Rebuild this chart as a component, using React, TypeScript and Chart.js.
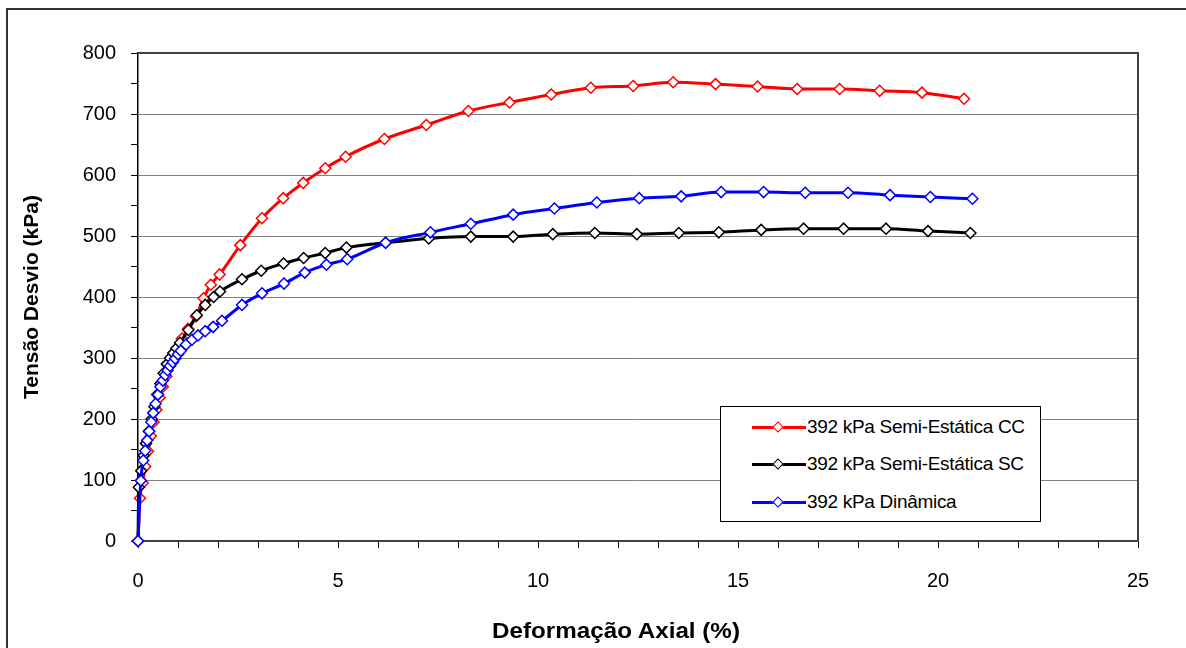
import React, { useEffect, useRef } from "react";
import { Chart, registerables } from "chart.js";

Chart.register(...registerables);

const seriesNames = [
  "392 kPa Semi-Estática CC",
  "392 kPa Semi-Estática SC",
  "392 kPa Dinâmica",
];
const seriesColors = ["#FF0000", "#000000", "#0000FF"];

const ccStrain = [0, 0.05, 0.12, 0.18, 0.25, 0.32, 0.39, 0.46, 0.54, 0.62, 0.71, 0.8, 0.9, 1.0, 1.1, 1.25, 1.45, 1.64, 1.82, 2.04, 2.56, 3.1, 3.63, 4.13, 4.68, 5.19, 6.16, 7.21, 8.26, 9.29, 10.33, 11.32, 12.38, 13.38, 14.44, 15.49, 16.48, 17.54, 18.54, 19.6, 20.65];
const ccStress = [0, 70, 95, 122, 147, 172, 195, 215, 235, 253, 270, 288, 303, 318, 332, 348, 368, 398, 420, 437, 485, 529, 562, 587, 611, 630, 659, 682, 705, 719, 732, 743, 746, 752, 749, 745, 741, 741, 738, 735, 725];

const scStrain = [0, 0.02, 0.08, 0.14, 0.2, 0.27, 0.34, 0.41, 0.48, 0.56, 0.64, 0.72, 0.8, 0.88, 0.96, 1.05, 1.26, 1.47, 1.68, 1.89, 2.05, 2.6, 3.08, 3.64, 4.14, 4.68, 5.21, 6.19, 7.27, 8.32, 9.38, 10.37, 11.42, 12.47, 13.52, 14.52, 15.58, 16.64, 17.64, 18.7, 19.75, 20.81];
const scStress = [0, 88, 115, 140, 160, 180, 200, 220, 240, 258, 275, 290, 300, 308, 316, 325, 346, 370, 387, 400, 409, 429, 443, 455, 464, 472, 481, 489, 496, 499, 499, 503, 505, 503, 505, 506, 510, 512, 512, 512, 508, 505];

const dynStrain = [0, 0.07, 0.13, 0.18, 0.23, 0.28, 0.33, 0.38, 0.44, 0.5, 0.56, 0.62, 0.68, 0.74, 0.8, 0.87, 0.93, 1.0, 1.07, 1.2, 1.35, 1.5, 1.68, 1.88, 2.1, 2.6, 3.1, 3.65, 4.17, 4.71, 5.23, 6.19, 7.31, 8.32, 9.38, 10.41, 11.47, 12.53, 13.58, 14.58, 15.64, 16.68, 17.75, 18.8, 19.81, 20.86];
const dynStress = [0, 99, 132, 148, 165, 180, 195, 210, 225, 240, 253, 263, 272, 280, 287, 293, 299, 306, 312, 322, 330, 337, 344, 351, 361, 387, 406, 422, 440, 453, 462, 489, 506, 520, 535, 545, 555, 562, 565, 572, 572, 571, 571, 567, 564, 561];

const xTickLabels = [0, 5, 10, 15, 20, 25];
const yTickLabels = [0, 100, 200, 300, 400, 500, 600, 700, 800];

const xTitle = "Deformação Axial (%)";
const yTitle = "Tensão Desvio (kPa)";

const FONT = '"Liberation Sans", Arial, sans-serif';

const toPoints = (xs: number[], ys: number[]) => xs.map((x, i) => ({ x, y: ys[i] }));

const framePlugin = {
  id: "plotFrame",
  beforeDatasetsDraw(chart: any) {
    const { ctx, chartArea } = chart;
    ctx.save();
    ctx.strokeStyle = "#404040";
    ctx.lineWidth = 2;
    ctx.beginPath();
    ctx.moveTo(chartArea.left, chartArea.top);
    ctx.lineTo(chartArea.right, chartArea.top);
    ctx.lineTo(chartArea.right, chartArea.bottom);
    ctx.stroke();
    ctx.restore();
  },
};

export default function App() {
  const canvasRef = useRef<HTMLCanvasElement | null>(null);

  useEffect(() => {
    const canvas = canvasRef.current;
    if (!canvas) return;
    const allData = [
      toPoints(ccStrain, ccStress),
      toPoints(scStrain, scStress),
      toPoints(dynStrain, dynStress),
    ];
    const chart = new Chart(canvas, {
      type: "line",
      data: {
        datasets: allData.map((d, i) => ({
          label: seriesNames[i],
          data: d,
          borderColor: seriesColors[i],
          backgroundColor: "#FFFFFF",
          pointBorderColor: seriesColors[i],
          pointBackgroundColor: "#FFFFFF",
          pointStyle: "rectRot",
          pointRadius: 5.5,
          pointBorderWidth: 1.5,
          borderWidth: 3,
          cubicInterpolationMode: "monotone",
          fill: false,
          clip: false,
          order: 2 - i,
        })),
      },
      options: {
        responsive: false,
        animation: false,
        devicePixelRatio: 1,
        layout: { padding: { top: 53, right: 48, left: 0, bottom: 0 } },
        plugins: {
          legend: { display: false },
          tooltip: { enabled: false },
          title: { display: false },
        },
        scales: {
          x: {
            type: "linear",
            min: 0,
            max: 25,
            afterFit: (s: any) => {
              s.height = 107;
            },
            ticks: {
              stepSize: 1,
              autoSkip: false,
              maxRotation: 0,
              padding: 21,
              color: "#000",
              font: { family: FONT, size: 20 },
              callback: (v: any) => (xTickLabels.includes(Number(v)) ? String(v) : ""),
            },
            grid: {
              drawOnChartArea: false,
              drawTicks: true,
              tickLength: 7,
              tickColor: "#000",
              tickWidth: 1,
            },
            border: { display: true, color: "#404040", width: 2 },
            title: { display: false },
          },
          y: {
            type: "linear",
            min: 0,
            max: 800,
            afterFit: (s: any) => {
              s.width = 138;
            },
            ticks: {
              stepSize: 50,
              autoSkip: false,
              padding: 15,
              color: "#000",
              font: { family: FONT, size: 20 },
              callback: (v: any) => (yTickLabels.includes(Number(v)) ? String(v) : ""),
            },
            grid: {
              color: (c: any) => {
                const v = c.tick ? c.tick.value : 0;
                return v % 100 === 0 && v !== 0 && v !== 800 ? "#808080" : "rgba(0,0,0,0)";
              },
              lineWidth: 1,
              drawTicks: true,
              tickLength: 7,
              tickColor: "#000",
              tickWidth: 1,
            },
            border: { display: true, color: "#000", width: 1.5 },
            title: {
              display: true,
              text: yTitle,
              color: "#000",
              font: { family: FONT, size: 21, weight: "bold" },
              padding: { top: 20, bottom: 0 },
            },
          },
        },
      },
      plugins: [framePlugin],
    });
    return () => chart.destroy();
  }, []);

  const legendRows = [427, 464, 502];

  return (
    <div
      style={{
        position: "fixed",
        left: 0,
        top: 0,
        width: 1186,
        height: 648,
        overflow: "hidden",
        background: "#fff",
        fontFamily: FONT,
      }}
    >
      <div
        style={{
          position: "absolute",
          left: 6,
          top: 8,
          width: 1400,
          height: 900,
          border: "2px solid #333",
        }}
      />
      <canvas
        ref={canvasRef}
        width={1186}
        height={648}
        style={{ position: "absolute", left: 0, top: 0, width: 1186, height: 648 }}
      />
      <div
        style={{
          position: "absolute",
          left: 616,
          top: 631,
          transform: "translate(-50%, -50%) scaleX(1.1)",
          fontWeight: "bold",
          fontSize: 22,
          whiteSpace: "nowrap",
          color: "#000",
        }}
      >
        {xTitle}
      </div>
      <div
        style={{
          position: "absolute",
          left: 720,
          top: 406,
          width: 319,
          height: 114,
          border: "1px solid #000",
          background: "#fff",
        }}
      />
      {seriesNames.map((name, i) => (
        <React.Fragment key={name}>
          <div
            style={{
              position: "absolute",
              left: 752,
              top: legendRows[i] - 1.5,
              width: 54,
              height: 3,
              background: seriesColors[i],
            }}
          />
          <div
            style={{
              position: "absolute",
              left: 778 - 4.5,
              top: legendRows[i] - 4.5,
              width: 6,
              height: 6,
              border: `1.5px solid ${seriesColors[i]}`,
              background: "#fff",
              transform: "rotate(45deg)",
            }}
          />
          <div
            style={{
              position: "absolute",
              left: 807,
              top: legendRows[i],
              transform: "translateY(-50%)",
              fontSize: 19,
              whiteSpace: "nowrap",
              color: "#000",
              letterSpacing: -0.3,
            }}
          >
            {name}
          </div>
        </React.Fragment>
      ))}
    </div>
  );
}
